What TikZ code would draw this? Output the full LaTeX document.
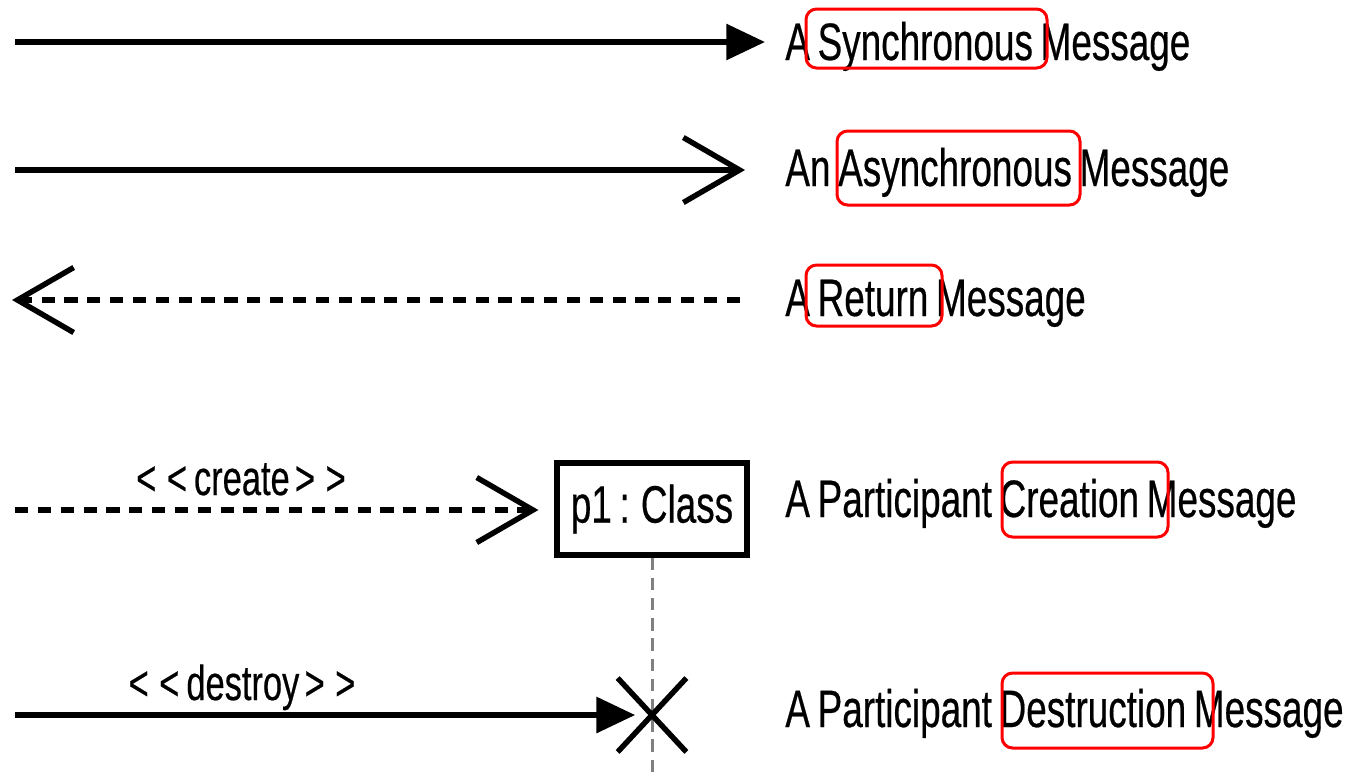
\documentclass[tikz,border=0pt]{standalone}
\usepackage{fontspec}
\setmainfont{Liberation Sans}[FakeStretch=0.70,WordSpace=0.75,FakeBold=0.4]
\usetikzlibrary{arrows.meta,shapes.misc}

\begin{document}
\begin{tikzpicture}
            [x=0.02cm,y=-0.02cm,
             msg/.style={line width=3.1pt},
             dashmsg/.style={line width=3.1pt,dash pattern=on 7.5pt off 5.5pt},
             sync/.style={-{Triangle[length=22pt,width=20pt]}},
             async/.style={-{Straight Barb[length=32pt,width=37pt]}},
             lifeline/.style={gray,line width=1.7pt,dash pattern=on 7pt off 4.5pt},
             txt/.style={anchor=base west,inner sep=0pt,font=\fontsize{30}{36}\selectfont},
             lbl/.style={anchor=base,inner sep=0pt,font=\fontsize{28}{32}\selectfont},
             hl/.style={draw=red,line width=1.7pt,rounded corners=6pt}]
            \useasboundingbox (0,0) rectangle (1368,779);
            % message lines
            \coordinate (s0) at (15,42);
            \coordinate (s1) at (765,42);
            \coordinate (a0) at (15,170);
            \coordinate (a1) at (745,170);
            \coordinate (r0) at (740,300);
            \coordinate (r1) at (12,300);
            \coordinate (c0) at (15,510);
            \coordinate (d0) at (15,715);
            \node[draw,line width=3.3pt,minimum width=108pt,minimum height=52pt,inner sep=0pt,
                  font=\fontsize{30}{36}\selectfont] (p1) at (652,509) {p1 : Class};
            \draw[lifeline] (p1.south) -- (652,779);
            \node[cross out,draw,line width=3.1pt,minimum width=36pt,minimum height=39pt,inner sep=0pt] (dx) at (652,715) {};
            \draw[msg,sync] (s0) -- (s1);
            \draw[msg,async] (a0) -- (a1);
            \draw[dashmsg,async] (r0) -- (r1);
            \draw[dashmsg,async,shorten >=9pt] (c0) -- (c0 -| p1.west);
            \draw[msg,sync,shorten >=9.6pt] (d0) -- (dx.center);
            \node[lbl] (cl) at (241,495) {<\kern6pt<\kern4pt create\kern3pt>\kern6pt>};
            \node[lbl] (dl) at (242,700) {<\kern6pt<\kern4pt destroy\kern3pt>\kern6pt>};
            % descriptions
            \node[txt] (t1) at (785,60) {A Synchronous Message};
            \node[txt] (t2) at (785,186) {An Asynchronous Message};
            \node[txt] (t3) at (785,316) {A Return Message};
            \node[txt] (t4) at (785,517) {A Participant Creation Message};
            \node[txt] (t5) at (785,727) {A Participant Destruction Message};
            \draw[hl] (806,9) rectangle (1047,68);
            \draw[hl] (837,131) rectangle (1080,205);
            \draw[hl] (806,265) rectangle (942,326);
            \draw[hl] (1002,462) rectangle (1168,537);
            \draw[hl] (1002,673) rectangle (1213,748);
        \end{tikzpicture}
\end{document}
